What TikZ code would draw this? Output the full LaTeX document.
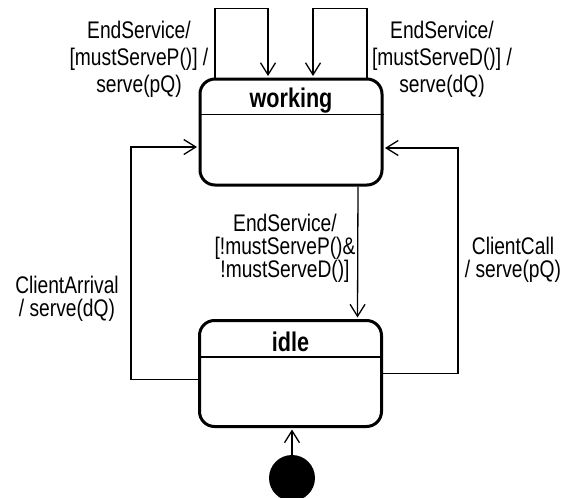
\documentclass[tikz,border=0pt]{standalone}
\usepackage{fontspec}
\setmainfont{Liberation Sans}[FakeStretch=0.8]
\usetikzlibrary{arrows.meta,positioning,calc}

\begin{document}
\begin{tikzpicture}[x=1pt,y=-1pt,
  state/.style={rectangle, draw, line width=3pt, rounded corners=15pt, minimum width=182pt, minimum height=106pt, inner sep=0pt},
  title/.style={font=\bfseries\fontsize{27}{30}\selectfont, anchor=base, inner sep=0pt},
  lbl/.style={align=center, font=\fontsize{24}{23}\selectfont, inner sep=0pt},
  sidelbl/.style={align=center, font=\fontsize{24}{22.5}\selectfont, inner sep=0pt},
  toplbl/.style={align=center, font=\fontsize{24}{27}\selectfont, inner sep=0pt},
  tr/.style={->, line width=1.3pt, shorten >=1.5pt},
  >={Straight Barb[length=12pt,width=15pt]}]
\useasboundingbox (0,0) rectangle (566,498);

\node[state] (working) at (291,132) {};
\node[state] (idle) at (290.5,373.5) {};
\node[title] (wtitle) at (291,107) {working};
\node[title] (ititle) at (290.5,351) {idle};
\draw[line width=1.3pt] ([yshift=-37pt]working.north west) -- ([yshift=-37pt]working.north east);
\draw[line width=1.3pt] ([yshift=-38pt]idle.north west) -- ([yshift=-38pt]idle.north east);

\node[circle, fill, minimum size=46pt, inner sep=0pt] (start) at (292,478) {};

\draw[tr] ([xshift=-76pt]working.north) -- ++(0,-69) -| ([xshift=-23pt]working.north);
\draw[tr] ([xshift=76pt]working.north) -- ++(0,-69) -| ([xshift=22pt]working.north);
\draw[tr] ([xshift=67pt]working.south) -- ([xshift=67pt]idle.north);
\draw[tr] ([yshift=-6pt]idle.west) -- ++(-67,0) |- ([yshift=-15pt]working.west);
\draw[tr] (idle.east) -- ++(75,0) |- ([yshift=-16pt]working.east);
\draw[tr] (start) -- (start |- idle.south);

\node[toplbl] (pserve) at (139,59) {EndService/\\{}[mustServeP()] /\\serve(pQ)};
\node[toplbl] (dserve) at (442,59) {EndService/\\{}[mustServeD()] /\\serve(dQ)};
\node[lbl] (done) at (285,248) {EndService/\\{}[!mustServeP()\&\\!mustServeD()]};
\node[sidelbl] (arrival) at (67,299) {ClientArrival\\/ serve(dQ)};
\node[sidelbl] (call) at (513,260) {ClientCall\\/ serve(pQ)};
\end{tikzpicture}
\end{document}
